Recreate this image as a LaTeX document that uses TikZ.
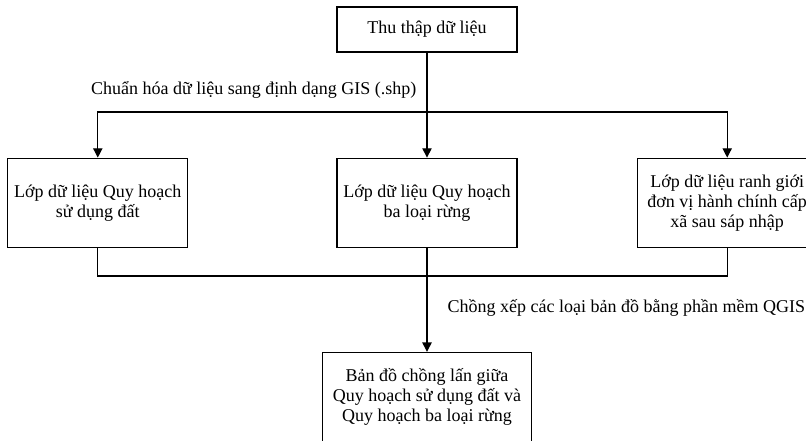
\documentclass[tikz,border=0pt]{standalone}
\usepackage{fontspec}
\setmainfont{Liberation Serif}
\usetikzlibrary{positioning,arrows.meta}

\begin{document}
\begin{tikzpicture}[
    x=0.75pt, y=-0.75pt,
    node distance=78.75pt,
    font=\fontsize{13.5}{15}\selectfont,
    block/.style={rectangle, draw, line width=0.9pt, align=center, minimum width=135pt, minimum height=66.75pt, inner sep=2pt},
    arrow/.style={line width=0.9pt, -{Triangle[length=7pt,width=7pt]}},
    line/.style={line width=0.9pt}
  ]
  \useasboundingbox (0,0) rectangle (806,440);

  \node[block, minimum height=33.75pt] (collect) at (427,29.5) {Thu thập dữ liệu};
  \node[block, below=of collect] (forest) {Lớp dữ liệu Quy hoạch\\ba loại rừng};
  \node[block, left=111pt of forest] (landuse) {Lớp dữ liệu Quy hoạch\\sử dụng đất};
  \node[block, right=89.25pt of forest] (boundary) {Lớp dữ liệu ranh giới\\đơn vị hành chính cấp\\xã sau sáp nhập};
  \node[block, below=78pt of forest, minimum width=156.75pt] (overlap) {Bản đồ chồng lấn giữa\\Quy hoạch sử dụng đất và\\Quy hoạch ba loại rừng};

  \coordinate (split) at (427,112);
  \coordinate (merge) at (427,276);

  \node[anchor=east] (convert) at (421,90) {Chuẩn hóa dữ liệu sang định dạng GIS (.shp)};
  \node[anchor=west] (stack) at (443,308) {Chồng xếp các loại bản đồ bằng phần mềm QGIS};

  \draw[line] (collect) -- (split);
  \draw[arrow] (split) -- (forest);
  \draw[arrow] (split) -| (landuse);
  \draw[arrow] (split) -| (boundary);
  \draw[line] (landuse) |- (merge);
  \draw[line] (boundary) |- (merge);
  \draw[arrow] (forest) -- (overlap);
\end{tikzpicture}
\end{document}
